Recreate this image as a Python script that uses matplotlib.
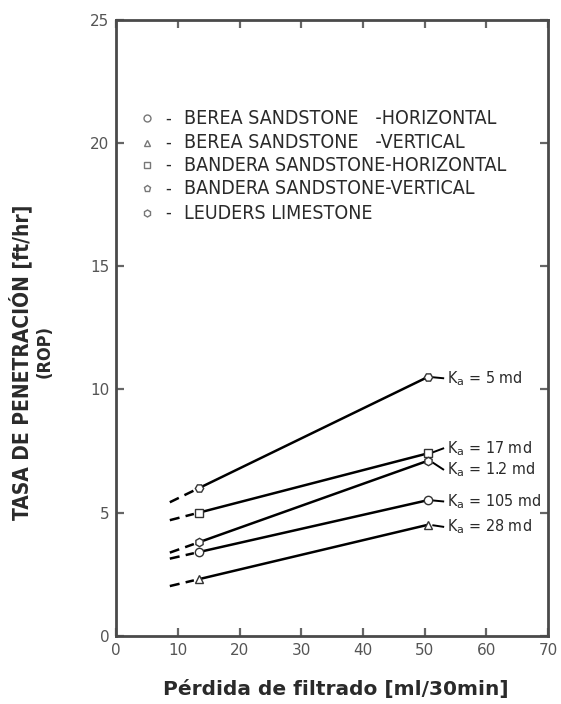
import matplotlib
matplotlib.use("Agg")
import matplotlib.pyplot as plt
from matplotlib import font_manager
import numpy as np

# --- data -------------------------------------------------------------
filtrate = [13.5, 50.5]                      # ml/30min, measured points
rop_low = [6.0, 5.0, 3.8, 3.4, 2.3]           # ROP at low filtrate loss
rop_high = [10.5, 7.4, 7.1, 5.5, 4.5]         # ROP at high filtrate loss
perm_labels = ["5 md", "17 md", "1.2 md", "105 md", "28 md"]
label_y = [10.45, 7.6, 6.75, 5.45, 4.42]
series_markers = ["H", "s", "h", "o", "^"]

legend_markers = ["o", "^", "s", "p", "h"]
legend_names = ["BEREA SANDSTONE   -HORIZONTAL",
                "BEREA SANDSTONE   -VERTICAL",
                "BANDERA SANDSTONE-HORIZONTAL",
                "BANDERA SANDSTONE-VERTICAL",
                "LEUDERS LIMESTONE"]

x_ticks = [0, 10, 20, 30, 40, 50, 60, 70]
y_ticks = [0, 5, 10, 15, 20, 25]

# --- fonts ------------------------------------------------------------
cond = font_manager.FontProperties(family="DejaVu Sans", stretch="condensed")
cond_file = font_manager.findfont(cond)
has_cond = "Condensed" in cond_file

ink = "#2a2a2a"
frame = "#4a4a4a"

fig = plt.figure(figsize=(5.61, 7.04), dpi=100)
ax = fig.add_axes([0.207, 0.097, 0.770, 0.875])
ax.set_xlim(0, 70)
ax.set_ylim(0, 25)

for s in ax.spines.values():
    s.set_color(frame)
    s.set_linewidth(2.0)

ax.set_xticks(x_ticks)
ax.set_yticks(y_ticks)
ax.tick_params(direction="in", length=6, width=1.6, color="#666666",
               top=True, right=True, labelsize=11, labelcolor="#555555", pad=5)

x_lo, x_hi = filtrate
for lo, hi, mk, lab, ly in zip(rop_low, rop_high, series_markers, perm_labels, label_y):
    slope = (hi - lo) / (x_hi - x_lo)
    # measured segment
    ax.plot(filtrate, [lo, hi], color="black", lw=1.8, zorder=2)
    # dashed extrapolation toward lower filtrate loss
    xd = np.array([8.7, x_lo - 0.9])
    ax.plot(xd, lo + slope * (xd - x_lo), color="black", lw=1.8,
            linestyle=(0, (4, 2.5)), zorder=2)
    ax.plot(filtrate, [lo, hi], linestyle="none", marker=mk, markersize=6,
            markerfacecolor="white", markeredgecolor="#333333", markeredgewidth=1.0, zorder=3)
    # leader and permeability label
    ax.plot([x_hi + 0.9, x_hi + 2.5], [hi + 0.25 * (ly - hi), ly], color="black", lw=1.4)
    ax.text(x_hi + 3.1, ly, "K$_\\mathrm{a}$ = " + lab, fontsize=11.5, stretch="condensed",
            color=ink, va="center", ha="left")

# legend block drawn as text rows
leg_y = [21.0, 20.0, 19.1, 18.15, 17.15]
for mk, name, yy in zip(legend_markers, legend_names, leg_y):
    ax.plot([5.0], [yy], marker=mk, markersize=5, linestyle="none",
            markerfacecolor="white", markeredgecolor="#777777", markeredgewidth=1.0)
    ax.text(8.5, yy, "-", fontsize=13, stretch="condensed", color=ink, va="center", ha="center")
    ax.text(11.0, yy, name, fontsize=14.0 if has_cond else 12.5, stretch="condensed",
            color=ink, va="center")

fig.text(0.036, 0.486, "TASA DE PENETRACIÓN [ft/hr]", rotation=90, fontsize=15,
         fontweight="bold", stretch="condensed", color=ink, ha="center", va="center")
fig.text(0.080, 0.500, "(ROP)", rotation=90, fontsize=13,
         fontweight="bold", stretch="condensed", color=ink, ha="center", va="center")
fig.text(0.598, 0.020, "Pérdida de filtrado [ml/30min]", fontsize=14.5,
         fontweight="bold", color=ink, ha="center", va="center")

fig.savefig("out.png", dpi=100, facecolor="white")
